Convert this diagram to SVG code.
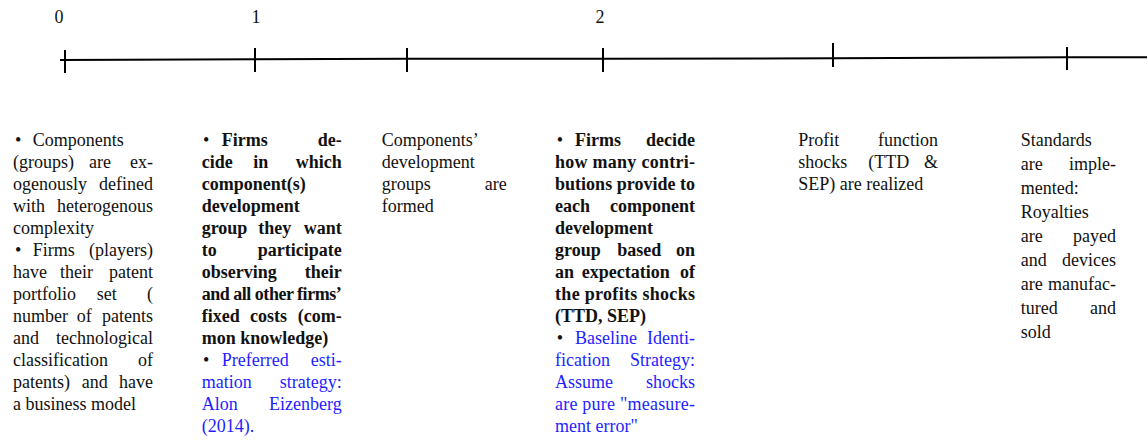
<svg xmlns="http://www.w3.org/2000/svg" width="1148" height="441" viewBox="0 0 1148 441">
<style>
text{font-family:"Liberation Serif","Times New Roman",serif;font-size:18px;fill:#111}
.b{font-weight:bold}
.u{fill:#1e1eff}
.e{text-anchor:end}
.m{text-anchor:middle}
.ax{fill:none;stroke:#000;stroke-width:2}
</style>
<rect width="1148" height="441" fill="#fff"/>
<g id="connectors">
<polyline class="ax" points="60,60 255,59.3 407,58.8 603,58.7 833,58.3 1067,57.3 1147,57.3"/>
<line class="ax" x1="65" y1="50" x2="65" y2="73"/>
<line class="ax" x1="255" y1="48" x2="255" y2="72"/>
<line class="ax" x1="407" y1="48" x2="407" y2="72"/>
<line class="ax" x1="603" y1="48" x2="603" y2="72"/>
<line class="ax" x1="833" y1="43" x2="833" y2="67"/>
<line class="ax" x1="1067" y1="47" x2="1067" y2="70"/>
</g>
<g id="labels">
<text class="m" x="59" y="23">0</text>
<text class="m" x="256" y="23">1</text>
<text class="m" x="600" y="23">2</text>
</g>
<g id="col0">
<text x="15" y="146">•</text><text x="32.7" y="146">Components</text>
<text x="13" y="168">(groups)</text><text x="89" y="168">are</text><text class="e" x="153" y="168">ex-</text>
<text x="13" y="190">ogenously</text><text class="e" x="153" y="190">defined</text>
<text x="13" y="212">with</text><text class="e" x="153" y="212">heterogenous</text>
<text x="13" y="234">complexity</text>
<text x="15" y="256">•</text><text x="32.7" y="256">Firms</text><text class="e" x="153" y="256">(players)</text>
<text x="13" y="278">have</text><text x="60" y="278">their</text><text class="e" x="153" y="278">patent</text>
<text x="13" y="300">portfolio</text><text x="96.7" y="300">set</text><text class="e" x="153" y="300">(</text>
<text x="13" y="322">number</text><text x="76.7" y="322">of</text><text class="e" x="153" y="322">patents</text>
<text x="13" y="344">and</text><text class="e" x="153" y="344">technological</text>
<text x="13" y="366">classification</text><text class="e" x="153" y="366">of</text>
<text x="13" y="388">patents)</text><text x="81.7" y="388">and</text><text class="e" x="153" y="388">have</text>
<text x="13" y="410">a business model</text>
</g>
<g id="col1">
<text x="203" y="146">•</text><text class="b" x="221.7" y="146">Firms</text><text class="b e" x="341.7" y="146">de-</text>
<text class="b" x="201.7" y="168">cide</text><text class="b" x="253.3" y="168">in</text><text class="b e" x="341.7" y="168">which</text>
<text class="b" x="201.7" y="190">component(s)</text>
<text class="b" x="201.7" y="212">development</text>
<text class="b" x="201.7" y="234">group</text><text class="b" x="258.3" y="234">they</text><text class="b e" x="341.7" y="234">want</text>
<text class="b" x="201.7" y="256">to</text><text class="b e" x="341.7" y="256">participate</text>
<text class="b" x="201.7" y="278">observing</text><text class="b e" x="341.7" y="278">their</text>
<text class="b" x="201.7" y="300" textLength="140" lengthAdjust="spacing">and all other firms’</text>
<text class="b" x="201.7" y="322">fixed</text><text class="b" x="250" y="322">costs</text><text class="b e" x="341.7" y="322">(com-</text>
<text class="b" x="201.7" y="344">mon knowledge)</text>
<text x="203" y="366">•</text><text class="u" x="221.7" y="366">Preferred</text><text class="u e" x="341.7" y="366">esti-</text>
<text class="u" x="201.7" y="388">mation</text><text class="u e" x="341.7" y="388">strategy:</text>
<text class="u" x="201.7" y="410">Alon</text><text class="u e" x="341.7" y="410">Eizenberg</text>
<text class="u" x="201.7" y="432">(2014).</text>
</g>
<g id="col2">
<text x="381.7" y="146">Components’</text>
<text x="381.7" y="168">development</text>
<text x="381.7" y="190">groups</text><text class="e" x="506.7" y="190">are</text>
<text x="381.7" y="212">formed</text>
</g>
<g id="col3">
<text x="556.7" y="146">•</text><text class="b" x="575" y="146">Firms</text><text class="b e" x="695" y="146">decide</text>
<text class="b" x="555" y="168" textLength="140" lengthAdjust="spacing">how many contri-</text>
<text class="b" x="555" y="190" textLength="140" lengthAdjust="spacing">butions provide to</text>
<text class="b" x="555" y="212">each</text><text class="b e" x="695" y="212">component</text>
<text class="b" x="555" y="234">development</text>
<text class="b" x="555" y="256">group</text><text class="b" x="617.3" y="256">based</text><text class="b e" x="695" y="256">on</text>
<text class="b" x="555" y="278">an</text><text class="b" x="581.7" y="278">expectation</text><text class="b e" x="695" y="278">of</text>
<text class="b" x="555" y="300" textLength="140" lengthAdjust="spacing">the profits shocks</text>
<text class="b" x="555" y="322">(TTD, SEP)</text>
<text x="556.7" y="344">•</text><text class="u" x="575" y="344">Baseline</text><text class="u e" x="695" y="344">Identi-</text>
<text class="u" x="555" y="366">fication</text><text class="u e" x="695" y="366">Strategy:</text>
<text class="u" x="555" y="388">Assume</text><text class="u e" x="695" y="388">shocks</text>
<text class="u" x="555" y="410" textLength="140" lengthAdjust="spacing">are pure "measure-</text>
<text class="u" x="555" y="432">ment error"</text>
</g>
<g id="col4">
<text x="798.3" y="146">Profit</text><text class="e" x="938" y="146">function</text>
<text x="798.3" y="168">shocks</text><text x="868.3" y="168">(TTD</text><text class="e" x="938" y="168">&amp;</text>
<text x="798.3" y="190">SEP) are realized</text>
</g>
<g id="col5">
<text x="1020.7" y="146">Standards</text>
<text x="1020.7" y="170">are</text><text class="e" x="1116" y="170">imple-</text>
<text x="1020.7" y="194">mented:</text>
<text x="1020.7" y="218">Royalties</text>
<text x="1020.7" y="242">are</text><text class="e" x="1116" y="242">payed</text>
<text x="1020.7" y="266">and</text><text class="e" x="1116" y="266">devices</text>
<text x="1020.7" y="290">are</text><text class="e" x="1116" y="290">manufac-</text>
<text x="1020.7" y="314">tured</text><text class="e" x="1116" y="314">and</text>
<text x="1020.7" y="338">sold</text>
</g>
</svg>
